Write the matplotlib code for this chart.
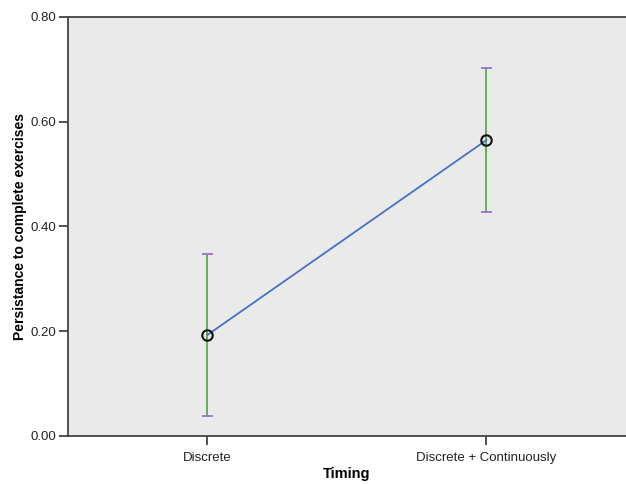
import numpy as np
from matplotlib import pyplot as plt

plt.rcParams["font.family"] = ["Liberation Sans", "DejaVu Sans"]
plt.rcParams.update({"font.size": 8})

categories = ["Discrete", "Discrete + Continuously"]
means = [0.193, 0.565]
upper = [0.347, 0.703]
lower = [0.038, 0.428]

x = np.arange(len(categories))
means = np.array(means)

fig = plt.figure(figsize=(6.26, 4.84), dpi=100)
ax = fig.add_axes([0.1086, 0.0992, 0.8914, 0.8658])
ax.set_facecolor("#eaeaea")

# error bars: green stems, purple caps
ax.vlines(x, lower, upper, color="#5aaa4e", linewidth=1.3, zorder=2)
ax.hlines(lower, x - 0.018, x + 0.018, color="#9f6fd0", linewidth=1.3, zorder=3)
ax.hlines(upper, x - 0.018, x + 0.018, color="#9f6fd0", linewidth=1.3, zorder=3)

ax.plot(x, means, color="#4472c4", linewidth=1.3, zorder=4)
ax.plot(x, means, "o", markersize=7.5, markerfacecolor="none",
        markeredgecolor="#111111", markeredgewidth=1.5, zorder=5)

ax.set_xlim(-0.5, 1.5)
ax.set_ylim(0, 0.8)
ax.set_xticks(x)
ax.set_xticklabels(categories, fontsize=9.5)
ax.set_yticks([0, 0.2, 0.4, 0.6, 0.8])
ax.set_yticklabels(["0.00", "0.20", "0.40", "0.60", "0.80"], fontsize=9.5)
ax.tick_params(direction="out", length=6.8, width=1.2, color="#333333",
               labelcolor="#222222", pad=2)
ax.tick_params(axis="x", pad=5)

for side in ["left", "bottom", "top"]:
    ax.spines[side].set_color("#444444")
    ax.spines[side].set_linewidth(1.3)
ax.spines["right"].set_visible(False)

ax.set_xlabel("Timing", fontsize=10.5, fontweight="bold", labelpad=2)
ax.set_ylabel("Persistance to complete exercises", fontsize=10,
              fontweight="bold", labelpad=2)

fig.savefig("out.png", dpi=100)
